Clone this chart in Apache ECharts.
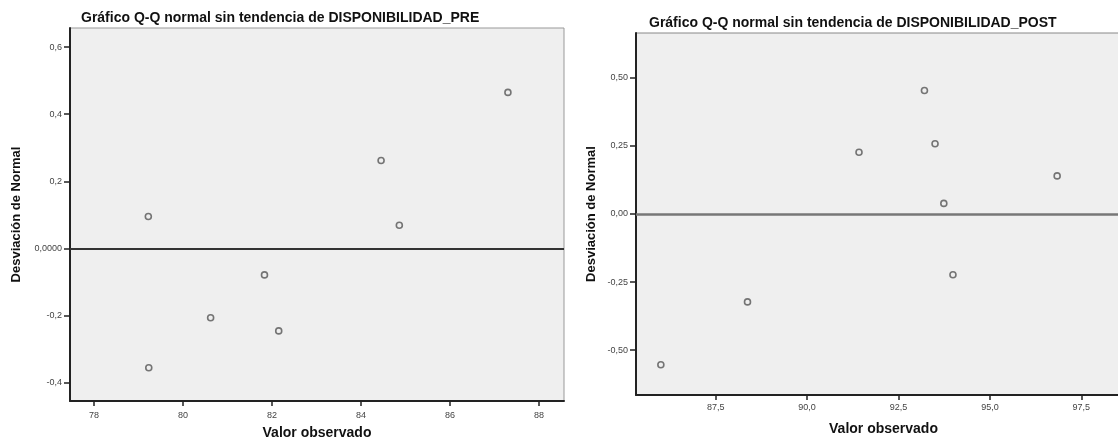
<!DOCTYPE html>
<html>
<head>
<meta charset="utf-8">
<script src="https://cdn.jsdelivr.net/npm/echarts@6/dist/echarts.min.js"></script>
<style>
html,body{margin:0;padding:0;background:#fff;}
#c{width:1118px;height:441px;}
</style>
</head>
<body>
<div id="c"></div>
<script>
// ---- Data ----
const preTitle = "Gráfico Q-Q normal sin tendencia de DISPONIBILIDAD_PRE";
const postTitle = "Gráfico Q-Q normal sin tendencia de DISPONIBILIDAD_POST";
const xName = "Valor observado";
const yName = "Desviación de Normal";

const preObserved  = [79.22, 84.45, 87.30, 84.86, 81.83, 80.62, 82.15, 79.23];
const preDeviation = [0.095, 0.262, 0.465, 0.069, -0.079, -0.207, -0.246, -0.356];

const postObserved  = [93.21, 93.50, 91.42, 96.84, 93.74, 93.99, 88.37, 86.00];
const postDeviation = [0.454, 0.258, 0.227, 0.140, 0.039, -0.223, -0.323, -0.554];

const preXTicks = [78, 80, 82, 84, 86, 88];
const preXTickLabels = ["78", "80", "82", "84", "86", "88"];
const preYTicks = [-0.4, -0.2, 0, 0.2, 0.4, 0.6];
const preYTickLabels = ["-0,4", "-0,2", "0,0000", "0,2", "0,4", "0,6"];

const postXTicks = [87.5, 90, 92.5, 95, 97.5];
const postXTickLabels = ["87,5", "90,0", "92,5", "95,0", "97,5"];
const postYTicks = [-0.5, -0.25, 0, 0.25, 0.5];
const postYTickLabels = ["-0,50", "-0,25", "0,00", "0,25", "0,50"];

// ---- Chart ----
const FONT = "Liberation Sans, Arial, sans-serif";
function lab(ticks, labels) {
  return function (v) {
    for (let i = 0; i < ticks.length; i++) if (Math.abs(ticks[i] - v) < 1e-9) return labels[i];
    return '';
  };
}
function xAxis(idx, min, max, ticks, labels, nameGap, margin) {
  return {
    type: 'value', gridIndex: idx, min: min, max: max,
    name: xName, nameLocation: 'middle', nameGap: nameGap,
    nameTextStyle: {fontFamily: FONT, fontWeight: 'bold', fontSize: 14, color: '#111'},
    axisLine: {show: true, onZero: false, lineStyle: {color: '#222', width: 2}},
    axisTick: {show: true, customValues: ticks, length: 5, lineStyle: {color: '#222', width: 1.5}},
    axisLabel: {customValues: ticks, formatter: lab(ticks, labels), fontFamily: FONT, fontSize: 9, color: '#444', margin: margin},
    splitLine: {show: false}
  };
}
function yAxis(idx, min, max, ticks, labels, nameGap) {
  return {
    type: 'value', gridIndex: idx, min: min, max: max,
    name: yName, nameLocation: 'middle', nameGap: nameGap, nameRotate: 90,
    nameTextStyle: {fontFamily: FONT, fontWeight: 'bold', fontSize: 13, color: '#111'},
    axisLine: {show: true, onZero: false, lineStyle: {color: '#222', width: 2}},
    axisTick: {show: true, customValues: ticks, length: 6, lineStyle: {color: '#222', width: 1.5}},
    axisLabel: {customValues: ticks, formatter: lab(ticks, labels), fontFamily: FONT, fontSize: 9, color: '#444', margin: 8},
    splitLine: {show: false}
  };
}
function pts(xs, ys) { return xs.map((x, i) => [x, ys[i]]); }

const chart = echarts.init(document.getElementById('c'), null, {renderer: 'canvas'});
chart.setOption({
  animation: false,
  backgroundColor: '#ffffff',
  title: [
    {text: preTitle, left: 76, top: 6, textStyle: {fontFamily: FONT, fontWeight: 'bold', fontSize: 14, color: '#111'}},
    {text: postTitle, left: 644, top: 11, textStyle: {fontFamily: FONT, fontWeight: 'bold', fontSize: 14, color: '#111'}}
  ],
  grid: [
    {left: 70, top: 28, width: 494, height: 373, show: true, backgroundColor: '#efefef', borderColor: '#999', borderWidth: 1, containLabel: false, outerBoundsMode: 'none'},
    {left: 636, top: 33, width: 495, height: 362, show: true, backgroundColor: '#efefef', borderColor: '#888', borderWidth: 1, containLabel: false, outerBoundsMode: 'none'}
  ],
  xAxis: [
    xAxis(0, 77.46, 88.56, preXTicks, preXTickLabels, 25, 10),
    xAxis(1, 85.32, 98.86, postXTicks, postXTickLabels, 27, 8)
  ],
  yAxis: [
    yAxis(0, -0.455, 0.657, preYTicks, preYTickLabels, 47),
    yAxis(1, -0.665, 0.665, postYTicks, postYTickLabels, 38)
  ],
  series: [
    {
      type: 'scatter', xAxisIndex: 0, yAxisIndex: 0,
      data: pts(preObserved, preDeviation),
      symbol: 'circle', symbolSize: 6,
      itemStyle: {color: '#efefef', borderColor: '#555', borderWidth: 1.6},
      markLine: {silent: true, symbol: 'none', label: {show: false},
        lineStyle: {color: '#333', width: 2, type: 'solid'}, data: [{yAxis: 0}]}
    },
    {
      type: 'scatter', xAxisIndex: 1, yAxisIndex: 1,
      data: pts(postObserved, postDeviation),
      symbol: 'circle', symbolSize: 6,
      itemStyle: {color: '#efefef', borderColor: '#555', borderWidth: 1.6},
      markLine: {silent: true, symbol: 'none', label: {show: false},
        lineStyle: {color: '#777', width: 2.5, type: 'solid'}, data: [{yAxis: 0}]}
    }
  ]
});
</script>
</body>
</html>
